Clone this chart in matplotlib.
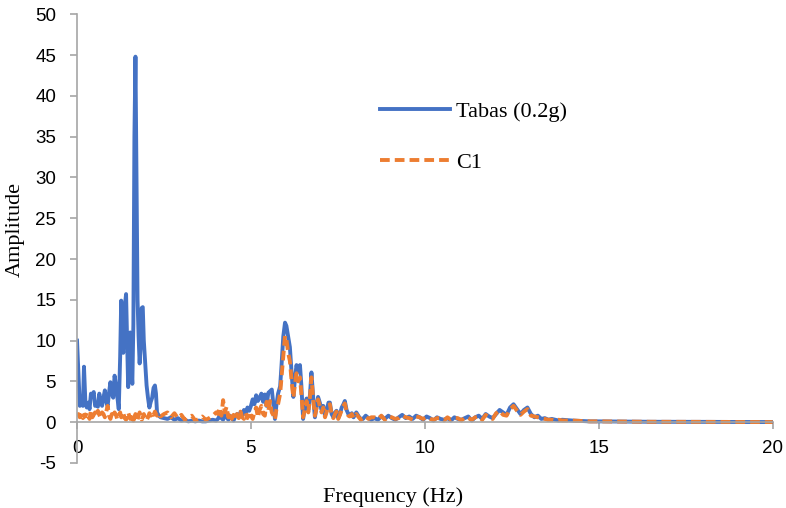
import matplotlib.pyplot as plt

# Spectrum
freq = [0.00, 0.04, 0.08, 0.12, 0.17, 0.20, 0.24, 0.28, 0.32, 0.36, 0.40, 0.44, 0.48, 0.52, 0.56, 0.60,
        0.64, 0.68, 0.72, 0.76, 0.80, 0.84, 0.88, 0.92, 0.96, 1.00, 1.04, 1.08, 1.12, 1.16, 1.20, 1.24,
        1.27, 1.30, 1.33, 1.37, 1.41, 1.44, 1.47, 1.50, 1.53, 1.56, 1.59, 1.62, 1.65, 1.68, 1.71, 1.74,
        1.77, 1.80, 1.83, 1.86, 1.89, 1.92, 1.96, 2.00, 2.04, 2.08, 2.12, 2.16, 2.20, 2.24, 2.27, 2.30,
        2.35, 2.40, 2.50,
        2.6, 2.7, 2.8, 2.9, 3.0, 3.1, 3.2, 3.3, 3.4, 3.5, 3.6, 3.7, 3.8, 3.9, 4.0,
        4.05, 4.10, 4.15, 4.20, 4.25, 4.30, 4.35, 4.40, 4.45, 4.50, 4.55, 4.60, 4.65, 4.70, 4.75, 4.80,
        4.85, 4.90, 4.95, 5.00, 5.05, 5.10, 5.15, 5.20, 5.25, 5.30, 5.35, 5.40, 5.45, 5.50, 5.55, 5.60,
        5.65, 5.69, 5.73, 5.78, 5.84, 5.88, 5.93, 5.98, 6.02, 6.07, 6.12, 6.17, 6.22, 6.27, 6.31, 6.36,
        6.41, 6.45, 6.50, 6.55, 6.60, 6.65, 6.70, 6.74, 6.79, 6.84, 6.89, 6.93, 6.98, 7.03, 7.08, 7.13,
        7.18, 7.23, 7.27, 7.32, 7.37, 7.42, 7.46, 7.51, 7.56, 7.61, 7.66, 7.70, 7.75, 7.80, 7.84, 7.90,
        7.95, 8.03, 8.10, 8.16, 8.22, 8.30, 8.38, 8.46,
        8.55, 8.65, 8.75, 8.85, 8.95, 9.05, 9.15, 9.25, 9.35, 9.45, 9.55, 9.65, 9.75, 9.85, 9.95, 10.05,
        10.15, 10.25, 10.35, 10.45, 10.55, 10.65, 10.75, 10.85, 10.95, 11.05, 11.15, 11.25, 11.35, 11.45,
        11.55, 11.65, 11.75, 11.85, 11.95, 12.05, 12.15, 12.25, 12.35, 12.45, 12.55, 12.65, 12.75, 12.85,
        12.95, 13.05, 13.15, 13.25, 13.35, 13.45, 13.55, 13.65, 13.75, 13.85, 13.95,
        14.25, 14.5, 14.75, 15.0, 15.5, 16.0, 16.5, 17.0, 17.5, 18.0, 18.5, 19.0, 19.5, 20.0]

tabas = [10.0, 6.0, 2.0, 3.0, 2.0, 6.8, 2.5, 1.8, 2.4, 1.6, 3.5, 3.3, 3.7, 2.0, 2.2, 1.9,
         3.5, 2.6, 2.0, 3.0, 3.9, 2.5, 2.0, 3.6, 4.9, 3.5, 3.0, 5.7, 4.5, 3.0, 1.6, 8.0,
         14.9, 9.5, 8.5, 14.0, 15.7, 10.0, 4.3, 7.5, 11.0, 7.0, 4.7, 12.0, 35.0, 44.8, 30.0, 15.0,
         10.5, 7.2, 9.5, 14.0, 14.1, 10.0, 7.2, 4.5, 3.0, 1.8, 2.5, 3.0, 4.2, 4.5, 3.5, 1.2,
         0.8, 0.6, 0.5,
         0.4, 0.6, 0.3, 0.5, 0.2, 0.3, 0.1, 0.2, 0.1, 0.2, 0.1, 0.1, 0.2, 0.3, 0.2,
         0.4, 0.8, 0.5, 0.3, 0.9, 0.6, 0.3, 0.8, 0.5, 0.2, 0.7, 1.0, 0.6, 1.2, 0.8, 1.5,
         1.0, 1.8, 1.4, 2.0, 2.8, 2.2, 3.3, 2.6, 3.0, 3.5, 2.5, 3.4, 2.0, 3.6, 3.8, 4.0,
         2.0, 0.4, 2.0, 3.5, 4.4, 7.0, 10.5, 12.2, 11.8, 10.5, 9.2, 6.0, 3.1, 5.5, 7.0, 6.2,
         7.0, 4.5, 0.4, 1.8, 2.9, 1.5, 3.5, 6.1, 3.0, 0.6, 2.0, 3.1, 2.4, 1.5, 2.0, 0.8,
         1.5, 2.4, 2.4, 1.0, 0.6, 1.2, 1.4, 0.5, 1.0, 1.8, 2.2, 2.6, 1.5, 1.0, 0.8, 1.1,
         0.6, 1.2, 0.7, 0.4, 0.4, 0.8, 0.5, 0.3,
         0.5, 0.3, 0.7, 0.4, 0.8, 0.5, 0.3, 0.6, 0.9, 0.5, 0.7, 0.4, 0.8, 0.6, 0.3, 0.7,
         0.5, 0.2, 0.6, 0.4, 0.3, 0.5, 0.2, 0.6, 0.4, 0.3, 0.5, 0.7, 0.2, 0.6,
         0.8, 0.4, 1.0, 0.7, 0.5, 1.0, 1.5, 1.2, 0.9, 1.8, 2.2, 1.6, 1.0, 1.5,
         1.8, 1.0, 0.6, 0.8, 0.4, 0.5, 0.3, 0.4, 0.3, 0.2, 0.3,
         0.2, 0.15, 0.1, 0.1, 0.08, 0.06, 0.05, 0.05, 0.04, 0.04, 0.03, 0.03, 0.02, 0.02]

c1 = [0.8, 1.0, 0.6, 1.1, 0.5, 0.9, 0.7, 1.2, 0.8, 0.4, 1.4, 0.6, 0.9, 1.2, 0.7, 1.4,
      0.9, 0.5, 1.2, 1.0, 0.6, 1.3, 2.0, 0.8, 0.4, 1.0, 0.6, 1.2, 0.9, 0.3, 0.8, 1.2,
      0.6, 0.9, 1.1, 0.5, 0.3, 0.7, 1.2, 0.8, 0.4, 0.9, 0.6, 0.2, 0.5, 1.0, 0.6, 0.3,
      0.8, 1.2, 0.7, 0.3, 0.6, 1.0, 0.5, 0.2, 0.6, 1.1, 0.8, 1.2, 0.9, 1.3, 1.0, 0.8,
      1.1, 0.7, 1.0,
      1.2, 0.6, 1.1, 0.5, 0.9, 0.3, 0.6, 0.8, 0.2, 0.4, 0.7, 0.3, 0.5, 0.8, 1.2,
      1.0, 1.8, 0.8, 2.7, 1.2, 1.9, 0.6, 1.2, 0.4, 0.9, 0.3, 1.0, 0.5, 1.3, 0.6, 0.4,
      1.1, 0.5, 1.3, 0.8, 0.4, 1.2, 1.8, 0.6, 1.5, 2.0, 1.0, 0.8, 2.5, 1.4, 2.6, 1.2,
      0.8, 0.3, 1.5, 2.2, 3.5, 5.5, 8.0, 10.6, 10.2, 8.5, 7.5, 5.0, 3.0, 4.8, 6.0, 5.0,
      5.5, 3.5, 0.6, 1.6, 2.6, 1.2, 3.2, 5.5, 2.8, 0.8, 1.8, 2.8, 2.0, 1.2, 1.8, 0.6,
      1.3, 2.0, 2.2, 0.9, 0.5, 1.0, 1.3, 0.4, 0.9, 1.5, 2.0, 2.3, 1.3, 0.8, 0.7, 1.0,
      0.5, 1.0, 0.6, 0.3, 0.5, 0.7, 0.4, 0.6,
      0.6, 0.4, 0.8, 0.3, 0.7, 0.6, 0.4, 0.5, 0.8, 0.6, 0.5, 0.3, 0.7, 0.6, 0.4, 0.6,
      0.4, 0.3, 0.5, 0.5, 0.2, 0.6, 0.3, 0.5, 0.5, 0.2, 0.6, 0.5, 0.3, 0.6,
      0.7, 0.3, 0.9, 0.6, 0.4, 1.1, 1.4, 0.9, 0.8, 1.6, 2.0, 1.4, 0.9, 1.3,
      1.6, 0.8, 0.7, 0.6, 0.5, 0.4, 0.3, 0.3, 0.2, 0.3, 0.2,
      0.2, 0.15, 0.1, 0.1, 0.08, 0.06, 0.05, 0.05, 0.04, 0.04, 0.03, 0.03, 0.02, 0.02]

plt.rcParams['font.family'] = ['Liberation Serif', 'DejaVu Serif']
plt.rcParams['axes.unicode_minus'] = False

fig = plt.figure(figsize=(7.86, 5.08), dpi=100)
ax = fig.add_axes([0.098, 0.0886, 0.885, 0.8834])

ax.plot(freq, tabas, color='#4472C4', lw=2.8, label='Tabas (0.2g)', solid_joinstyle='round')
ax.plot(freq, c1, color='#ED7D31', lw=2.8, ls=(0, (2.5, 1.3)), label='C1')

ax.set_xlim(0, 20)
ax.set_ylim(-5, 50)
ax.set_xticks([0, 5, 10, 15, 20])
ax.set_yticks(range(-5, 51, 5))

for s in ['top', 'right']:
    ax.spines[s].set_visible(False)
ax.spines['bottom'].set_position(('data', 0))
for s in ['left', 'bottom']:
    ax.spines[s].set_color('#A6A6A6')
    ax.spines[s].set_linewidth(1.2)
ax.tick_params(axis='both', direction='out', length=5, width=1.2, color='#A6A6A6',
               labelsize=13.5, labelcolor='black')
ax.tick_params(axis='x', pad=8)
ax.tick_params(axis='y', pad=10)
for lab in ax.get_xticklabels() + ax.get_yticklabels():
    lab.set_family('Liberation Sans')

ax.set_xlabel('Frequency (Hz)', fontsize=16)
ax.set_ylabel('Amplitude', fontsize=16)
ax.xaxis.set_label_coords(0.454, -0.053)
ax.yaxis.set_label_coords(-0.075, 0.52)

ax.legend(loc='upper left', bbox_to_anchor=(0.483, 0.80), bbox_transform=fig.transFigure,
          frameon=False, fontsize=16, handlelength=3.15, labelspacing=1.35,
          handletextpad=0.3, borderpad=0, borderaxespad=0)

plt.savefig('out.png', dpi=100)
